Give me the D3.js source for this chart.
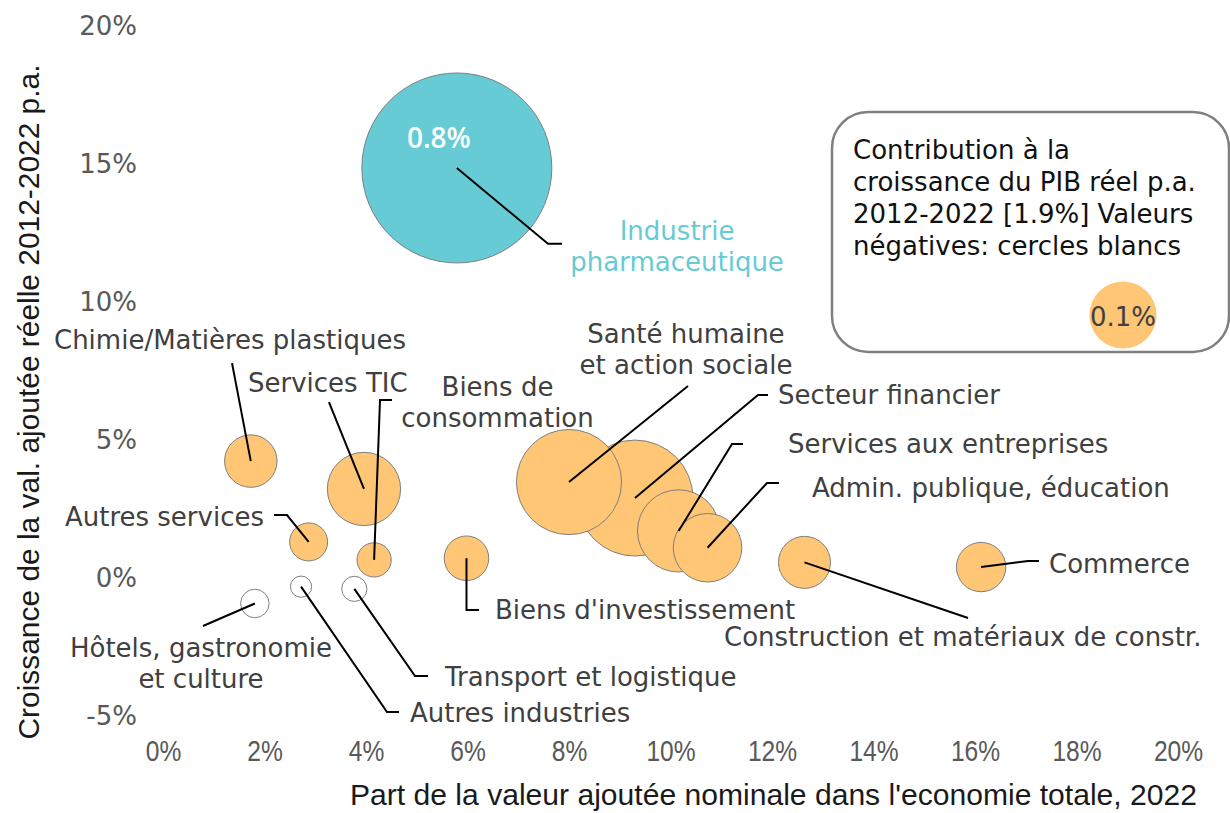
<!DOCTYPE html>
<html>
<head>
<meta charset="utf-8">
<script src="https://cdn.jsdelivr.net/npm/d3@7"></script>
<style>
	body { margin: 0; background: #fff; }
	svg { display: block; }
	.label { font-family: "DejaVu Sans", Verdana, sans-serif; font-size: 26px; fill: #404040; }
	.ytick { font-family: "DejaVu Sans", Verdana, sans-serif; font-size: 26px; fill: #595959; }
	.xtick { font-family: "Liberation Sans", Arial, sans-serif; font-size: 30px; fill: #595959; }
	.title { font-family: "Liberation Sans", Arial, sans-serif; font-size: 29px; fill: #1a1a1a; }
	.leader { fill: none; stroke: #000; stroke-width: 2; }
	.bubble { stroke: #7f7f7f; stroke-width: 1; }
</style>
</head>
<body>
<svg id="chart"></svg>
<script>
// share of nominal value added 2022 (%), real growth 2012-2022 p.a. (%), contribution to GDP growth (pp)
const sectors = [
	"Industrie pharmaceutique",
	"Chimie/Matières plastiques",
	"Services TIC",
	"Autres services",
	"Biens de consommation",
	"Biens d'investissement",
	"Santé humaine et action sociale",
	"Secteur financier",
	"Services aux entreprises",
	"Admin. publique, éducation",
	"Construction et matériaux de constr.",
	"Commerce",
	"Hôtels, gastronomie et culture",
	"Autres industries",
	"Transport et logistique"
];
const share = [5.79, 1.73, 3.96, 2.87, 4.16, 5.98, 8.0, 9.3, 10.16, 10.73, 12.64, 16.12, 1.81, 2.72, 3.77];
const growth = [14.82, 4.2, 3.19, 1.27, 0.62, 0.68, 3.44, 2.86, 1.67, 1.06, 0.53, 0.36, -0.96, -0.35, -0.43];
const contribution = [0.8, 0.061, 0.119, 0.032, 0.026, 0.044, 0.245, 0.298, 0.15, 0.104, 0.06, 0.054, -0.018, -0.01, -0.014];

const xTicks = [0, 2, 4, 6, 8, 10, 12, 14, 16, 18, 20];
const yTicks = [-5, 0, 5, 10, 15, 20];
const legendValue = 0.1;
const totalGrowth = 1.9;

// label text lines, leader-line bends and label anchor, in chart units (share %, growth %)
const labelLines = [
	["Industrie", "pharmaceutique"],
	["Chimie/Matières plastiques"],
	["Services TIC"],
	["Autres services"],
	["Biens de", "consommation"],
	["Biens d'investissement"],
	["Santé humaine", "et action sociale"],
	["Secteur financier"],
	["Services aux entreprises"],
	["Admin. publique, éducation"],
	["Construction et matériaux de constr."],
	["Commerce"],
	["Hôtels, gastronomie", "et culture"],
	["Autres industries"],
	["Transport et logistique"]
];
const leaderBends = [
	[[7.586, 12.07], [7.862, 12.07]],
	[[1.36, 7.75]],
	[[3.27, 6.34]],
	[[2.443, 2.246], [2.187, 2.246]],
	[[4.276, 6.413], [4.512, 6.413]],
	[[5.98, -1.196], [6.227, -1.196]],
	[[10.345, 6.92]],
	[[11.724, 6.594], [11.921, 6.594]],
	[[11.212, 4.819], [11.429, 4.819]],
	[[11.901, 3.406], [12.138, 3.406]],
	[[15.862, -1.486]],
	[[17.044, 0.58], [17.261, 0.58]],
	[[0.788, -1.775]],
	[[4.414, -4.891], [4.65, -4.891]],
	[[4.966, -3.587], [5.222, -3.587]]
];
const labelAnchors = [
	[10.13, 12.21, "middle"],
	[-2.148, 8.26, "start"],
	[1.675, 6.70, "start"],
	[1.99, 1.848, "end"],
	[6.591, 6.558, "middle"],
	[6.542, -1.522, "start"],
	[10.305, 8.478, "middle"],
	[12.118, 6.286, "start"],
	[12.315, 4.493, "start"],
	[12.788, 2.899, "start"],
	[11.054, -2.5, "start"],
	[17.458, 0.145, "start"],
	[0.749, -2.899, "middle"],
	[4.867, -5.254, "start"],
	[5.557, -3.949, "start"]
];

function BubbleChart(svgId) {
	const width = 1230;
	const height = 813;
	const lineGap = 31;
	const orange = "#fec675";
	const teal = "#66cbd4";

	const x = d3.scaleLinear().domain([0, 20]).range([163, 1178]);
	const y = d3.scaleLinear().domain([-5, 20]).range([715, 25]);
	const r = d3.scaleSqrt().domain([0, 0.8]).range([0, 95]);

	const data = sectors.map((name, i) => ({
		name,
		share: share[i],
		growth: growth[i],
		contribution: contribution[i],
		lines: labelLines[i],
		bends: leaderBends[i],
		anchor: labelAnchors[i],
		pharma: i === 0
	}));

	function fillOf(d) {
		if (d.contribution < 0) return "#fff";
		return d.pharma ? teal : orange;
	}

	const svg = d3.select(`#${svgId}`)
		.attr("width", width)
		.attr("height", height);

	// y axis
	svg.append("g")
		.attr("transform", "translate(137,0)")
		.call(d3.axisLeft(y).tickValues(yTicks).tickSize(0).tickPadding(0).tickFormat((d) => `${d}%`))
		.call((g) => g.select(".domain").remove())
		.selectAll("text")
		.attr("class", "ytick")
		.attr("font-family", null)
		.attr("font-size", null)
		.attr("fill", null)
		.attr("dy", "0.36em");

	// x axis, squeezed to look condensed
	svg.append("g")
		.attr("transform", "translate(0,750)")
		.call(d3.axisBottom(x).tickValues(xTicks).tickSize(0).tickPadding(0).tickFormat((d) => `${d}%`))
		.call((g) => g.select(".domain").remove())
		.selectAll("text")
		.attr("class", "xtick")
		.attr("font-family", null)
		.attr("font-size", null)
		.attr("fill", null)
		.attr("y", 0)
		.attr("dy", "0.36em")
		.attr("transform", "scale(0.82,1)");

	svg.append("text")
		.attr("class", "title")
		.attr("text-anchor", "end")
		.attr("x", 1197)
		.attr("y", 805)
		.attr("textLength", 847)
		.attr("lengthAdjust", "spacingAndGlyphs")
		.text("Part de la valeur ajoutée nominale dans l'economie totale, 2022");

	svg.append("text")
		.attr("class", "title")
		.attr("text-anchor", "middle")
		.attr("transform", "translate(39,402) rotate(-90)")
		.attr("textLength", 675)
		.attr("lengthAdjust", "spacingAndGlyphs")
		.text("Croissance de la val. ajoutée réelle 2012-2022 p.a.");

	// bubbles, biggest first so the small ones stay visible
	const sorted = [...data].sort((a, b) => Math.abs(b.contribution) - Math.abs(a.contribution));
	svg.append("g")
		.selectAll("circle")
		.data(sorted)
		.enter()
		.append("circle")
		.attr("class", "bubble")
		.attr("cx", (d) => x(d.share))
		.attr("cy", (d) => y(d.growth))
		.attr("r", (d) => r(Math.abs(d.contribution)))
		.attr("fill", fillOf);

	const pharma = data[0];
	svg.append("text")
		.attr("x", x(pharma.share) - 18)
		.attr("y", y(pharma.growth) - 20)
		.attr("text-anchor", "middle")
		.attr("font-family", "'Open Sans', sans-serif")
		.attr("font-size", 28)
		.attr("font-weight", 600)
		.attr("fill", "#fff")
		.text(`${pharma.contribution.toFixed(1)}%`);

	// leader lines
	const line = d3.line();
	svg.append("g")
		.selectAll("path")
		.data(data)
		.enter()
		.append("path")
		.attr("class", "leader")
		.attr("d", (d) => line([[x(d.share), y(d.growth)], ...d.bends.map((p) => [x(p[0]), y(p[1])])]));

	// labels
	const labels = svg.append("g")
		.selectAll("text")
		.data(data)
		.enter()
		.append("text")
		.attr("class", "label")
		.attr("text-anchor", (d) => d.anchor[2])
		.attr("x", (d) => x(d.anchor[0]))
		.attr("y", (d) => y(d.anchor[1]))
		.style("fill", (d) => d.pharma ? teal : null);
	labels.selectAll("tspan")
		.data((d) => d.lines.map((t) => ({ t, d })))
		.enter()
		.append("tspan")
		.attr("x", (s) => x(s.d.anchor[0]))
		.attr("dy", (_, i) => i === 0 ? 0 : lineGap)
		.text((s) => s.t);

	// legend box
	const legend = svg.append("g");
	legend.append("rect")
		.attr("x", 832)
		.attr("y", 112)
		.attr("width", 397)
		.attr("height", 240)
		.attr("rx", 36)
		.attr("fill", "#fff")
		.attr("stroke", "#808080")
		.attr("stroke-width", 2.5);
	const legendLines = [
		"Contribution à la",
		"croissance du PIB réel p.a.",
		`2012-2022 [${totalGrowth}%] Valeurs`,
		"négatives: cercles blancs"
	];
	legend.append("text")
		.attr("class", "label")
		.style("fill", "#111")
		.attr("x", 853)
		.attr("y", 159)
		.selectAll("tspan")
		.data(legendLines)
		.enter()
		.append("tspan")
		.attr("x", 853)
		.attr("dy", (_, i) => i === 0 ? 0 : 32)
		.text((d) => d);
	legend.append("circle")
		.attr("cx", 1123)
		.attr("cy", 315)
		.attr("r", r(legendValue))
		.attr("fill", orange);
	legend.append("text")
		.attr("class", "label")
		.attr("text-anchor", "middle")
		.attr("x", 1123)
		.attr("y", 326)
		.text(`${legendValue}%`);
}

BubbleChart("chart");
</script>
</body>
</html>
